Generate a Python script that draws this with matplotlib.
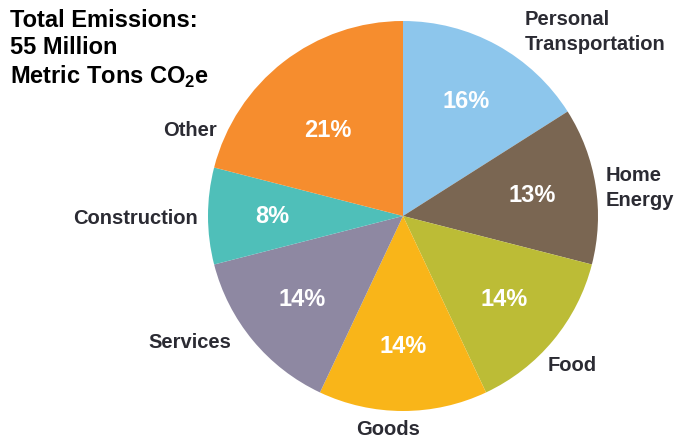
import matplotlib
matplotlib.use('Agg')
from matplotlib import pyplot as plt
from matplotlib import font_manager

# Dados
categorias = ['Personal\nTransportation', 'Home\nEnergy', 'Food', 'Goods',
              'Services', 'Construction', 'Other']
percentuais = [16, 13, 14, 14, 14, 8, 21]
cores = ['#8DC6EC', '#7A6652', '#BCBC36', '#F9B519', '#8E88A2', '#4FBFB9', '#F68D2E']
titulo = 'Total Emissions:\n55 Million\nMetric Tons CO$_\\mathbf{2}$e'

nomes = {f.name for f in font_manager.fontManager.ttflist}
fonte = 'Liberation Sans Narrow' if 'Liberation Sans Narrow' in nomes else 'Liberation Sans'
plt.rcParams['font.family'] = [fonte, 'DejaVu Sans']
plt.rcParams['mathtext.fontset'] = 'custom'
plt.rcParams['mathtext.rm'] = fonte
plt.rcParams['mathtext.bf'] = fonte + ':bold'

fig = plt.figure(figsize=(6.8, 4.43), dpi=100)
# eixo quadrado em pixels: centro (403, 216), raio 195
ax = fig.add_axes([208 / 680, (443 - 411) / 443, 390 / 680, 390 / 443])

fatias, _, pcts = ax.pie(percentuais, colors=cores, startangle=90, counterclock=False,
                         radius=1, autopct='%d%%', pctdistance=0.67,
                         wedgeprops=dict(linewidth=0),
                         textprops=dict(color='white', fontsize=17, fontweight='bold'))
# o 21% fica um pouco mais abaixo no original
pcts[6].set_position((-0.385, 0.441))
ax.set_xlim(-1, 1)
ax.set_ylim(-1, 1)
ax.axis('off')

# posicoes dos rotulos (em unidades do raio)
pos_rotulos = [(0.626, 0.944, 'left'), (1.041, 0.144, 'left'), (0.867, -0.769, 'center'),
               (-0.077, -1.097, 'center'), (-1.092, -0.651, 'center'),
               (-1.374, -0.015, 'center'), (-1.092, 0.441, 'center')]
for nome, (x, y, ha) in zip(categorias, pos_rotulos):
    ax.text(x, y, nome, ha=ha, va='center', fontsize=14.5, fontweight='bold',
            color='#2B2B33', linespacing=1.35, clip_on=False)

fig.text(10 / 680, 1 - 9 / 443, titulo, ha='left', va='top', fontsize=17,
         fontweight='bold', color='black', linespacing=1.22)

plt.savefig('out.png', dpi=100)
